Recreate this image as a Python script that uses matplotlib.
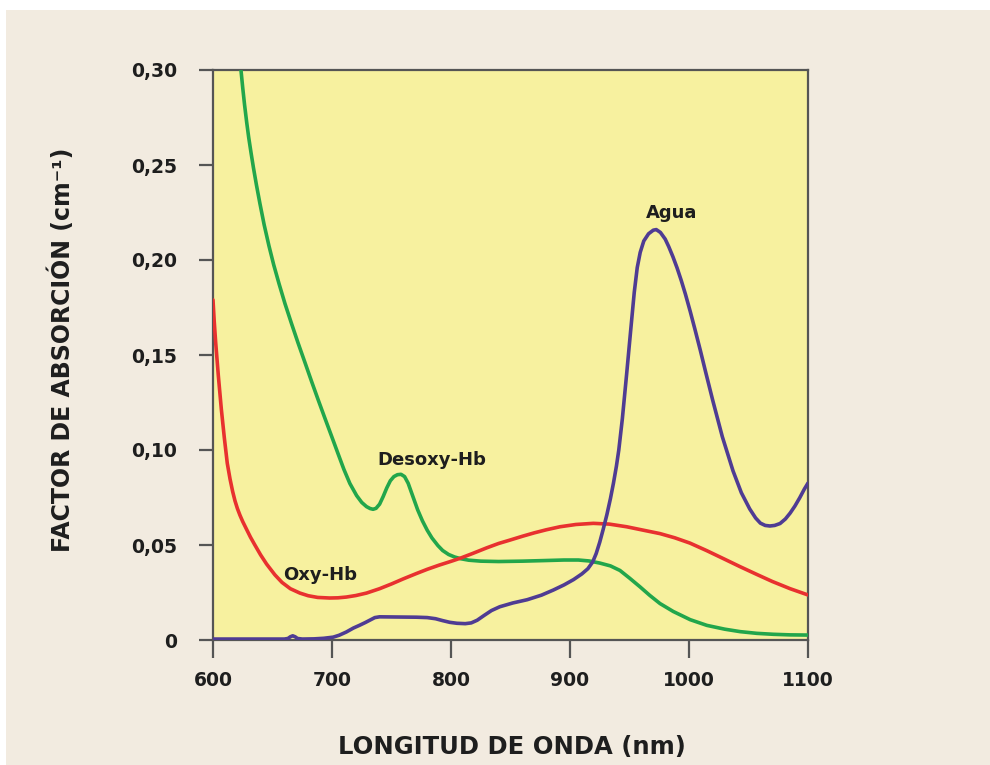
import matplotlib
matplotlib.use("Agg")
import matplotlib.pyplot as plt
from matplotlib.patches import Rectangle

# ---- data ----
desoxy_nm = [623.5, 625, 626.5, 628.3, 630, 632, 634, 636.5, 639.5, 643, 647, 651, 655.5, 660.5, 666, 671.5,
             677.3, 683, 688.5, 694, 699.7, 705, 710, 715, 720.7, 725, 729, 732, 734.5, 737, 740, 743, 746,
             749, 752, 755, 758, 761, 764, 768, 772, 776, 780, 784, 789, 793, 798, 803, 808, 815, 825, 840,
             860, 878, 895, 907, 916, 925, 934, 942, 950, 958.8, 967, 975.6, 986.8, 1001, 1015, 1030, 1043,
             1057, 1071, 1085, 1100]
desoxy_v = [0.3000, 0.2905, 0.2818, 0.2725, 0.2645, 0.2563, 0.2485, 0.2395, 0.2295, 0.2185, 0.2075, 0.1975, 0.1875, 0.1770, 0.1665, 0.1563,
            0.1460, 0.1358, 0.1262, 0.1168, 0.1072, 0.0982, 0.0898, 0.0824, 0.0760, 0.0724, 0.0702, 0.0692, 0.0688, 0.0693, 0.0715, 0.0755, 0.0800,
            0.0838, 0.0860, 0.0870, 0.0872, 0.0860, 0.0825, 0.0755, 0.0685, 0.0627, 0.0578, 0.0537, 0.0497, 0.0471, 0.0450, 0.0437, 0.0428, 0.0420, 0.0415, 0.0413,
            0.0415, 0.0418, 0.0421, 0.0421, 0.0416, 0.0405, 0.0390, 0.0366, 0.0326, 0.0280, 0.0235, 0.0192, 0.0150, 0.0107, 0.0077, 0.0057, 0.0044,
            0.0035, 0.0030, 0.0027, 0.0026]

oxy_nm = [600, 601, 602.2, 604.5, 607, 609.5, 612, 614.3, 616.5, 618.5, 620.5, 622.7, 625, 628, 631.5, 635, 640, 645,
          652, 658, 665, 673, 680, 688, 698, 705, 712, 720, 729, 740, 750, 760, 771, 780, 790, 800, 807.6, 818, 830,
          840, 849.6, 860, 870, 880, 891.6, 905, 919.6, 933, 947.6, 960, 975.6, 988, 1000.8, 1015, 1030, 1042.9, 1057,
          1070, 1085, 1100]
oxy_v = [0.179, 0.168, 0.157, 0.139, 0.1215, 0.1065, 0.0930, 0.0848, 0.0782, 0.0732, 0.0692, 0.0656, 0.0623, 0.0585, 0.0541, 0.0502, 0.0448, 0.0400,
         0.0343, 0.0303, 0.0270, 0.0247, 0.0233, 0.0224, 0.0221, 0.0222, 0.0226, 0.0234, 0.0247, 0.0270, 0.0295, 0.0322, 0.0350, 0.0372, 0.0394, 0.0414, 0.0430, 0.0455, 0.0485,
         0.0508, 0.0526, 0.0546, 0.0564, 0.0580, 0.0596, 0.0608, 0.0614, 0.0610, 0.0596, 0.0580, 0.0560, 0.0538, 0.0510, 0.0470, 0.0425, 0.0386, 0.0345,
         0.0308, 0.0270, 0.0237]

agua_nm = [600, 640, 660, 663, 665, 667, 669, 671, 675, 685, 693, 701, 706, 712, 718, 723, 728, 732, 736, 740,
           755, 771, 780, 787, 793, 799, 805, 812, 817, 822, 828, 834, 841, 852, 864, 876, 886, 895, 903, 910,
           915, 919, 922, 925, 928, 931, 934, 936.5, 939, 941, 944, 947.6, 951, 954, 956.5, 959, 962, 966, 970,
           972.5, 976, 980, 983, 986.5, 990, 993.5, 997, 1001, 1005, 1009.5, 1014, 1020, 1028, 1037, 1044, 1051,
           1056, 1060, 1064, 1068, 1072, 1076.5, 1081, 1085, 1089, 1093, 1097, 1100]
agua_v = [0.0005, 0.0005, 0.0005, 0.0008, 0.0017, 0.0022, 0.0017, 0.0008, 0.0005, 0.0006, 0.0009, 0.0015, 0.0025, 0.0042, 0.0063, 0.0077, 0.0092, 0.0105, 0.0118, 0.0122,
          0.0121, 0.0120, 0.0118, 0.0112, 0.0102, 0.0093, 0.0088, 0.0086, 0.0090, 0.0104, 0.0130, 0.0155, 0.0175, 0.0195, 0.0212, 0.0236, 0.0263, 0.0290, 0.0318, 0.0348,
          0.0375, 0.0410, 0.0455, 0.0515, 0.0585, 0.0660, 0.0745, 0.0825, 0.0915, 0.1000, 0.1165, 0.1400, 0.1630, 0.1830, 0.1960, 0.2040, 0.2100, 0.2138, 0.2157,
          0.2160, 0.2145, 0.2110, 0.2070, 0.2017, 0.1958, 0.1892, 0.1820, 0.1730, 0.1635, 0.1525, 0.1410, 0.1260, 0.1070, 0.0890, 0.0775, 0.0690,
          0.0642, 0.0615, 0.0603, 0.0600, 0.0603, 0.0613, 0.0637, 0.0668, 0.0705, 0.0748, 0.0795, 0.0826]

x_ticks = [600, 700, 800, 900, 1000, 1100]
x_tick_labels = ["600", "700", "800", "900", "1000", "1100"]
y_ticks = [0, 0.05, 0.10, 0.15, 0.20, 0.25, 0.30]
y_tick_labels = ["0", "0,05", "0,10", "0,15", "0,20", "0,25", "0,30"]

# ---- style ----
BEIGE = "#F2EBE0"
YELLOW = "#F7F19F"
SPINE = "#555555"
GREEN = "#22A64B"
RED = "#E8312F"
PURPLE = "#4F3C93"
TEXT = "#1E1E1E"

plt.rcParams['font.family'] = ['DejaVu Sans']

fig = plt.figure(figsize=(9.9, 7.65), dpi=100)
fig.patch.set_facecolor("white")
fig.add_artist(Rectangle((6 / 990, 0), 1, 755 / 765, transform=fig.transFigure,
                         facecolor=BEIGE, edgecolor="none", zorder=-10))

ax = fig.add_axes([213 / 990, 125 / 765, 595 / 990, 570 / 765])
ax.set_facecolor(YELLOW)

lw = 2.6
kw = dict(lw=lw, solid_capstyle="round", solid_joinstyle="round")
ax.plot(desoxy_nm, desoxy_v, color=GREEN, zorder=3, **kw)
ax.plot(oxy_nm, oxy_v, color=RED, zorder=3, **kw)
ax.plot(agua_nm, agua_v, color=PURPLE, zorder=4, **kw)

ax.set_xlim(600, 1100)
ax.set_ylim(0, 0.30)

ax.set_xticks(x_ticks)
ax.set_xticklabels(x_tick_labels)
ax.set_yticks(y_ticks)
ax.set_yticklabels(y_tick_labels)

for s in ax.spines.values():
    s.set_color(SPINE)
    s.set_linewidth(1.6)

ax.tick_params(axis="x", direction="out", length=13, width=1.6, color=SPINE, pad=9,
               labelsize=13.5, labelcolor=TEXT)
ax.tick_params(axis="y", direction="out", length=10, width=1.6, color=SPINE, pad=16,
               labelsize=13.5, labelcolor=TEXT)
for lab in ax.get_xticklabels() + ax.get_yticklabels():
    lab.set_fontweight("bold")

fig.text(512 / 990, 1 - 747 / 765, "LONGITUD DE ONDA (nm)", ha="center", va="center",
         fontsize=17.5, fontweight="bold", color=TEXT)
fig.text(62 / 990, 1 - 350 / 765, "FACTOR DE ABSORCIÓN (cm⁻¹)", ha="center", va="center",
         rotation=90, fontsize=17, fontweight="bold", color=TEXT)

ax.text(784, 0.0947, "Desoxy-Hb", ha="center", va="center", fontsize=13, fontweight="bold", color=TEXT)
ax.text(690, 0.0340, "Oxy-Hb", ha="center", va="center", fontsize=13, fontweight="bold", color=TEXT)
ax.text(985, 0.2245, "Agua", ha="center", va="center", fontsize=13, fontweight="bold", color=TEXT)

fig.savefig("out.png", dpi=100, facecolor=fig.get_facecolor())
